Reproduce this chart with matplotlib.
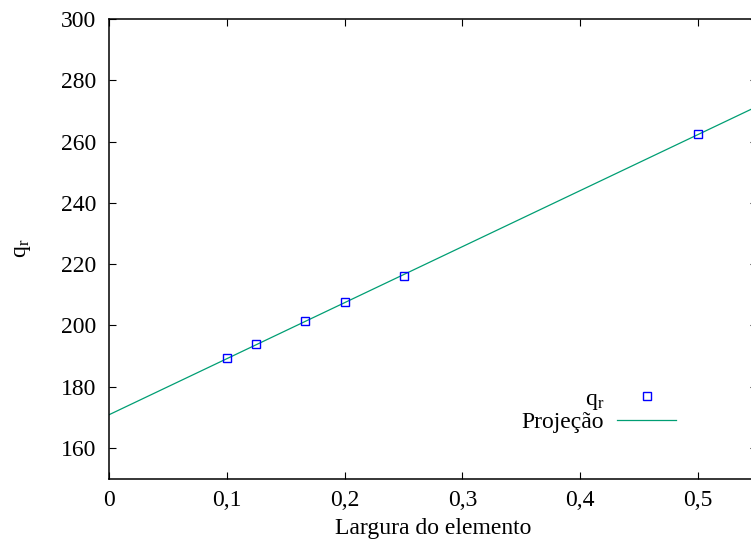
import numpy as np
import matplotlib
matplotlib.use('Agg')
import matplotlib.pyplot as plt
from matplotlib.ticker import FuncFormatter

# data (element width vs q_r)
largura = [0.1, 0.125, 1/6, 0.2, 0.25, 0.5]
qr = [189.3, 193.8, 201.4, 207.5, 216.0, 262.5]

# linear projection to zero width
coef = np.polyfit(largura, qr, 1)
proj_x = np.array([0.0, 0.55])
proj_y = np.polyval(coef, proj_x)

xticks = [0, 0.1, 0.2, 0.3, 0.4, 0.5]
yticks = [160, 180, 200, 220, 240, 260, 280, 300]

plt.rcParams['font.family'] = ['Liberation Serif']
plt.rcParams['mathtext.fontset'] = 'custom'
plt.rcParams['mathtext.rm'] = 'Liberation Serif'
plt.rcParams['mathtext.it'] = 'Liberation Serif:italic'

fs = 17

fig = plt.figure(figsize=(7.51, 5.48), dpi=100)
ax = fig.add_axes([0.1451, 0.1266, 0.863, 0.8387])

ax.plot(largura, qr, 's', color='#0000ff', mfc='none', ms=6, mew=1.0,
        label=r'q$_{\mathrm{r}}$', zorder=3)
ax.plot(proj_x, proj_y, '-', color='#009e73', lw=0.9, label='Projeção')

ax.set_xlim(0, 0.55)
ax.set_ylim(150, 300)
ax.set_xticks(xticks)
ax.set_yticks(yticks)
ax.xaxis.set_major_formatter(FuncFormatter(lambda v, p: ('%g' % v).replace('.', ',')))

ax.tick_params(direction='in', length=5, width=0.8, labelsize=fs,
               top=True, right=True)
ax.tick_params(axis='x', pad=8)
ax.tick_params(axis='y', pad=9)
for s in ax.spines.values():
    s.set_linewidth(1.1)

ax.set_xlabel('Largura do elemento', fontsize=fs, labelpad=5)
ax.set_ylabel(r'q$_{\mathrm{r}}$', fontsize=fs, labelpad=20)

ax.legend(loc='upper right', bbox_to_anchor=(0.875, 0.197), frameon=False,
          markerfirst=False, fontsize=fs, handlelength=2.5,
          handletextpad=0.55, labelspacing=0.0, borderpad=0, borderaxespad=0)

fig.savefig('out.png', dpi=100)
